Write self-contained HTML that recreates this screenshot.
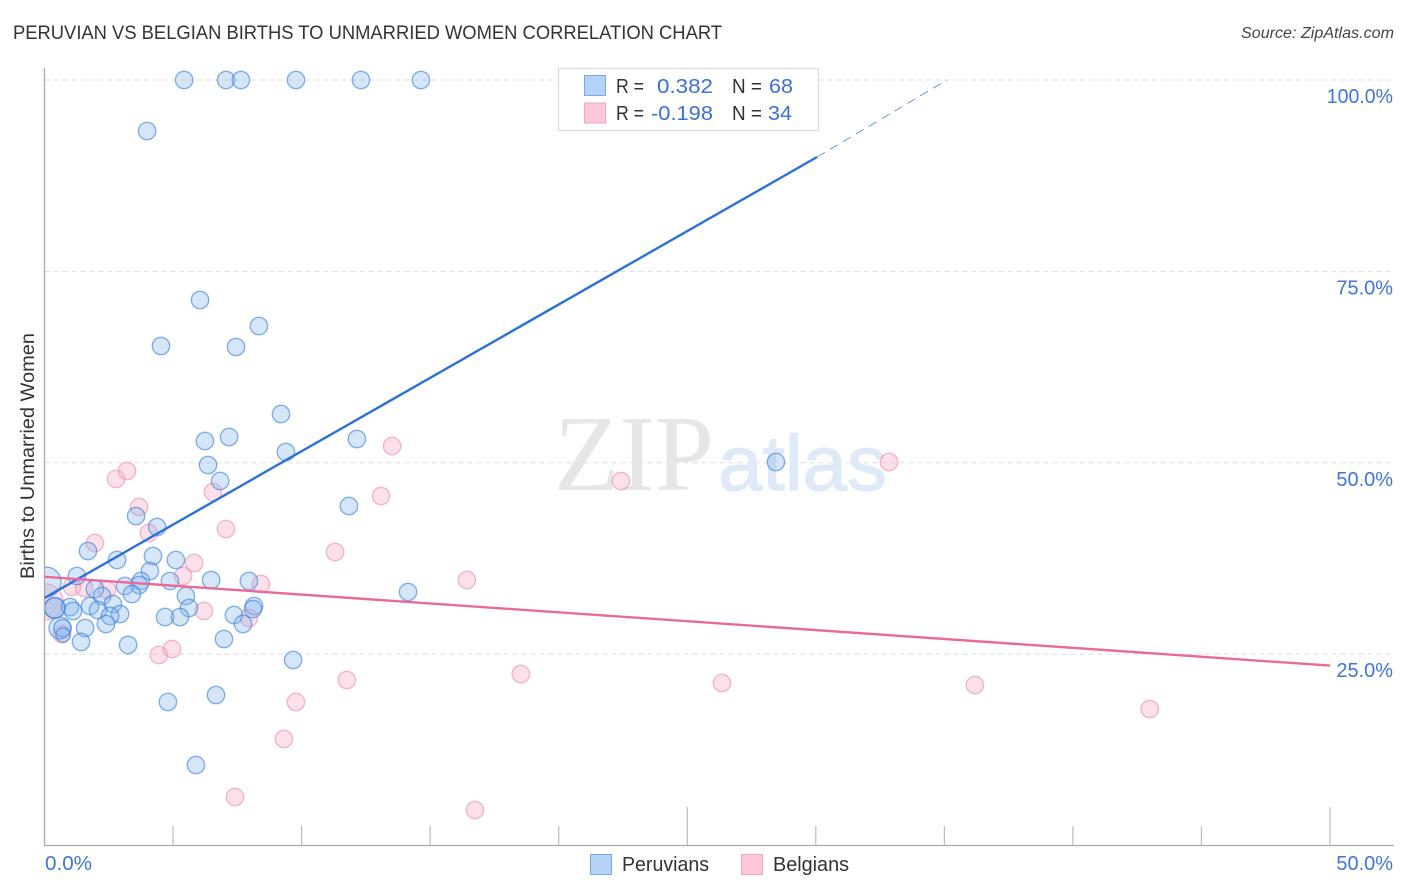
<!DOCTYPE html>
<html lang="en">
<head>
<meta charset="utf-8">
<title>Peruvian vs Belgian Births to Unmarried Women Correlation Chart</title>
<style>
html,body{margin:0;padding:0;background:#fff;}
svg{display:block;font-family:"Liberation Sans",Arial,sans-serif;}
</style>
</head>
<body>
<svg id="chart" width="1406" height="892" viewBox="0 0 1406 892" xmlns="http://www.w3.org/2000/svg">
  <defs>
    <clipPath id="plot-clip"><rect x="45" y="60" width="1349" height="786"/></clipPath>
  </defs>
  <rect x="0" y="0" width="1406" height="892" fill="#ffffff"/>
  <text x="13" y="39" font-size="19" fill="#333333" textLength="709" lengthAdjust="spacingAndGlyphs">PERUVIAN VS BELGIAN BIRTHS TO UNMARRIED WOMEN CORRELATION CHART</text>
  <text x="1394" y="38" font-size="15.5" font-style="italic" fill="#444444" text-anchor="end" textLength="153" lengthAdjust="spacingAndGlyphs">Source: ZipAtlas.com</text>
  <text transform="translate(34 456) rotate(-90)" font-size="19" fill="#333333" text-anchor="middle" textLength="246" lengthAdjust="spacingAndGlyphs">Births to Unmarried Women</text>
  <g id="grid"></g>
  <g>
    <text x="554" y="490" font-family="'Liberation Serif',serif" font-size="108" fill="#e6e6e6" textLength="160" lengthAdjust="spacingAndGlyphs">ZIP</text>
    <text x="718" y="490" font-family="'Liberation Sans',sans-serif" font-size="78" fill="#dfe9f8" stroke="#dfe9f8" stroke-width="1.2" textLength="169" lengthAdjust="spacingAndGlyphs">atlas</text>
  </g>
  <g id="axes"></g>
  <g clip-path="url(#plot-clip)">
    <g id="points-belgians"></g>
    <g id="points-peruvians"></g>
  </g>
  <g id="trends"></g>
  <g id="tick-labels"></g>

  <g>
    <rect x="558.5" y="68.5" width="260" height="62" fill="#ffffff" fill-opacity="0.9" stroke="#dddddd" stroke-width="1.3"/>
    <rect x="584.5" y="75.5" width="21" height="20" fill="#b5d2f7" stroke="#7aa9ea"/>
    <rect x="584.5" y="103" width="21" height="20" fill="#ffc8da" stroke="#f4a3bd"/>
    <g font-size="20">
      <text x="616" y="93" fill="#333333" textLength="28" lengthAdjust="spacingAndGlyphs">R =</text>
      <text x="657" y="93" fill="#3a70d8" textLength="56" lengthAdjust="spacingAndGlyphs">0.382</text>
      <text x="732" y="93" fill="#333333" textLength="30" lengthAdjust="spacingAndGlyphs">N =</text>
      <text x="769" y="93" fill="#3a70d8" textLength="24" lengthAdjust="spacingAndGlyphs">68</text>
      <text x="616" y="120" fill="#333333" textLength="28" lengthAdjust="spacingAndGlyphs">R =</text>
      <text x="651" y="120" fill="#3a70d8" textLength="62" lengthAdjust="spacingAndGlyphs">-0.198</text>
      <text x="732" y="120" fill="#333333" textLength="30" lengthAdjust="spacingAndGlyphs">N =</text>
      <text x="768" y="120" fill="#3a70d8" textLength="24" lengthAdjust="spacingAndGlyphs">34</text>
    </g>
  </g>

  <g>
    <g>
      <rect x="590.5" y="854.5" width="21" height="20" fill="#b5d2f7" stroke="#7aa9ea"/>
      <text x="622" y="871" font-size="20" fill="#333333" textLength="87" lengthAdjust="spacingAndGlyphs">Peruvians</text>
    </g>
    <g>
      <rect x="741.5" y="854.5" width="21" height="20" fill="#ffc8da" stroke="#f4a3bd"/>
      <text x="773" y="871" font-size="20" fill="#333333" textLength="76" lengthAdjust="spacingAndGlyphs">Belgians</text>
    </g>
  </g>
</svg>
<script>
var peruvianX = [5.43,7.06,7.64,9.78,12.31,14.64,3.99,6.05,8.34,4.53,7.45,9.2,6.24,7.18,9.39,12.15,6.36,28.45,6.83,11.84,3.56,4.38,1.69,4.22,2.82,5.11,4.1,1.26,3.75,4.88,6.48,7.95,0.06,3.68,3.13,1.96,14.14,3.4,2.24,5.5,2.66,1.77,5.62,0.38,0.99,2.08,1.11,2.94,4.69,5.27,2.55,7.37,8.15,8.11,2.39,7.72,1.58,0.6,0.7,0.72,6.98,1.42,3.25,9.67,6.67,4.8,5.89,0.41];
var peruvianY = [100,100,100,100,100,100,93.34,71.26,67.86,65.25,65.12,56.37,52.84,53.36,51.4,53.1,49.71,50.1,47.62,44.35,43.04,41.61,38.47,37.82,37.3,37.3,35.86,35.21,34.55,34.55,34.68,34.55,34.42,34.03,33.9,33.51,33.12,32.85,32.59,32.59,31.55,31.29,31.03,31.03,31.16,30.76,30.63,30.24,29.85,29.85,29.98,30.11,31.29,30.89,28.94,28.94,28.41,28.41,28.4,27.5,26.98,26.59,26.2,24.23,19.66,18.75,10.52,31.03];
var peruvianWeight = [1,1,1,1,1,1,1,1,1,1,1,1,1,1,1,1,1,1,1,1,1,1,1,1,1,1,1,1,1,1,1,1,3,1,1,1,1,1,1,1,1,1,1,1.5,1,1,1,1,1,1,1,1,1,1,1,1,1,1.7,1,0.5,1,1,1,1,1,1,1,1.5];

var belgianX = [0.02,3.21,2.78,3.68,4.06,6.55,7.06,1.96,5.82,5.39,1.07,1.54,2.43,6.2,8.42,7.95,4.45,4.96,0.68,13.52,13.09,11.3,16.43,22.42,32.85,18.53,26.35,36.19,42.99,11.76,9.78,9.31,7.41,16.74];
var belgianY = [31.81,48.92,47.88,44.22,40.82,46.18,41.35,39.52,36.9,35.21,33.77,33.64,33.38,30.63,34.16,29.72,24.89,25.67,27.6,52.19,45.66,38.34,34.68,47.62,50.1,22.4,21.23,20.97,17.83,21.62,18.75,13.91,6.34,4.64];
var belgianWeight = [4,1,1,1,1,1,1,1,1,1,1,1,1,1,1,1,1,1,1,1,1,1,1,1,1,1,1,1,1,1,1,1,1,1];

var peruvianTrendX = [0,30.05];
var peruvianTrendY = [32.33,89.94];
var peruvianTrendExtX = [30.05,35.1];
var peruvianTrendExtY = [89.94,100];
var belgianTrendX = [0,50];
var belgianTrendY = [35.1,23.5];

var yTicks = [25,50,75,100];
var yTickLabels = ["25.0%","50.0%","75.0%","100.0%"];
var xTicks = [0,5,10,15,20,25,30,35,40,45,50];
var xMajorTicks = [25,50];
var xEndLabels = ["0.0%","50.0%"];

var SVGNS = "http://www.w3.org/2000/svg";
function sx(v){ return 44.5 + v * 25.71; }
function sy(v){ return 845.5 - v * 7.655; }
function labelWidth(s){ return 9.6 * s.length + 8.6; }
function make(tag, parentId, attrs){
  var el = document.createElementNS(SVGNS, tag);
  for (var k in attrs) el.setAttribute(k, attrs[k]);
  document.getElementById(parentId).appendChild(el);
  return el;
}

yTicks.forEach(function(t){
  var g = make("line","grid",{x1:44.5,x2:1394,y1:sy(t),y2:sy(t),stroke:"#dddddd","stroke-width":1,"stroke-dasharray":"5 4"});
  
  
});

var yAxis = make("line","axes",{x1:44.5,x2:44.5,y1:68,y2:846,stroke:"#aaaaaa","stroke-width":1.3});


var xAxis = make("line","axes",{x1:44,x2:1394,y1:845.5,y2:845.5,stroke:"#aaaaaa","stroke-width":1.3});


xTicks.forEach(function(t){
  if (t === 0) return;
  var top = xMajorTicks.indexOf(t) >= 0 ? 807 : 826;
  var l = make("line","axes",{x1:sx(t),x2:sx(t),y1:top,y2:845.5,stroke:"#bbbbbb","stroke-width":1.2});
  
  
});

function drawPoints(parentId, xs, ys, ws, fill, stroke, name){
  xs.forEach(function(x,i){
    var r = 8.7 + (ws[i]-1) * 3.15;
    var c = make("circle",parentId,{cx:sx(x),cy:sy(ys[i]),r:r,fill:fill,"fill-opacity":0.33,stroke:stroke,"stroke-opacity":0.62,"stroke-width":1.4});
    
    
  });
}
drawPoints("points-belgians", belgianX, belgianY, belgianWeight, "#f7a3bf", "#ee8fb0", "belgian-point");
drawPoints("points-peruvians", peruvianX, peruvianY, peruvianWeight, "#84b2ee", "#3f83dc", "peruvian-point");

var t1 = make("line","trends",{x1:sx(peruvianTrendX[0]),y1:sy(peruvianTrendY[0]),x2:sx(peruvianTrendX[1]),y2:sy(peruvianTrendY[1]),stroke:"#2a72d6","stroke-width":2.4});


var t2 = make("line","trends",{x1:sx(peruvianTrendExtX[0]),y1:sy(peruvianTrendExtY[0]),x2:sx(peruvianTrendExtX[1]),y2:sy(peruvianTrendExtY[1]),stroke:"#2a72d6","stroke-width":0.7,"stroke-dasharray":"9 6"});


var t3 = make("line","trends",{x1:sx(belgianTrendX[0]),y1:sy(belgianTrendY[0]),x2:sx(belgianTrendX[1]),y2:sy(belgianTrendY[1]),stroke:"#e96a9a","stroke-width":2.4});



yTicks.forEach(function(t,i){
  var tx = make("text","tick-labels",{x:1393,y:sy(t)+23,"font-size":20,fill:"#3f75d9","text-anchor":"end",textLength:labelWidth(yTickLabels[i]),lengthAdjust:"spacingAndGlyphs"});
  tx.textContent = yTickLabels[i];
  
  
});
var xl0 = make("text","tick-labels",{x:45,y:870,"font-size":20,fill:"#3f75d9",textLength:labelWidth(xEndLabels[0]),lengthAdjust:"spacingAndGlyphs"});
xl0.textContent = xEndLabels[0];


var xl1 = make("text","tick-labels",{x:1393,y:870,"font-size":20,fill:"#3f75d9","text-anchor":"end",textLength:labelWidth(xEndLabels[1]),lengthAdjust:"spacingAndGlyphs"});
xl1.textContent = xEndLabels[1];


</script>
</body>
</html>
